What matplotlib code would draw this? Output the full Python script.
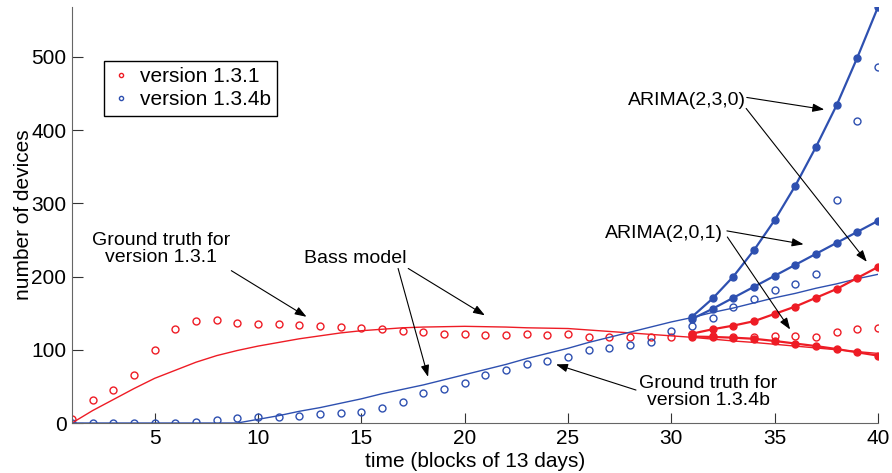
import numpy as np
import matplotlib.pyplot as plt

plt.rcParams['font.family'] = ['Liberation Sans', 'DejaVu Sans']

# time axis (blocks of 13 days)
t = np.arange(1, 41)
t_fc = np.arange(31, 41)

# ground truth
v131 = [5, 31, 45, 65, 100, 129, 139, 140, 136, 135,
        135, 134, 133, 131, 130, 129, 126, 124, 122, 122,
        120, 120, 121, 120, 121, 118, 117, 118, 118, 118,
        121, 119, 118, 117, 119, 119, 117, 124, 128, 130]
v134b = [0, 0, 0, 0, 0, 0, 1, 4, 7, 8,
         8, 10, 12, 14, 15, 20, 29, 41, 47, 54,
         66, 73, 81, 85, 90, 99, 103, 106, 111, 126,
         132, 144, 158, 169, 182, 190, 204, 304, 413, 486]

# Bass model fits
bass131 = [0, 17, 32, 47, 61, 72, 83, 92, 99, 105,
           110, 115, 119, 123, 126, 128, 130, 131, 131.5, 132,
           131.5, 131, 130, 129.5, 129, 127, 125, 123, 121, 119,
           117, 114.5, 112, 110, 107.5, 105, 102.5, 100, 97.5, 95]
bass134b = [0, 0, 0, 0, 0, 0, 0, 0, 0, 5,
            10, 16, 21, 27, 33, 40, 46, 52, 59, 66,
            73, 80, 88, 95, 102, 110, 117, 124, 131, 138,
            144, 151, 157, 164, 171, 177, 184, 190, 197, 203]

# ARIMA forecasts from block 31
arima230_134b = [145, 170, 200, 236, 277, 324, 377, 434, 499, 568]
arima201_134b = [142, 156, 171, 186, 201, 216, 231, 246, 261, 276]
arima230_131 = [122, 128, 133, 139, 149, 159, 171, 183, 198, 213]
arima201_131 = [118, 117.5, 116.5, 115, 112, 108.5, 105, 101, 96.5, 92]

red = '#ee1c25'
blue = '#2e50b0'

fig = plt.figure(figsize=(8.92, 4.73), dpi=100)
ax = fig.add_axes([0.0807, 0.1057, 0.9036, 0.8795])

ax.plot(t, v131, 'o', mfc='none', mec=red, ms=5, mew=1.0, label='version 1.3.1')
ax.plot(t, v134b, 'o', mfc='none', mec=blue, ms=5, mew=1.0, label='version 1.3.4b')
ax.plot(t, bass131, '-', color=red, lw=1.0)
ax.plot(t, bass134b, '-', color=blue, lw=1.0)

for ys, c in [(arima230_134b, blue), (arima201_134b, blue),
              (arima230_131, red), (arima201_131, red)]:
    ax.plot(t_fc, ys, '-o', color=c, lw=1.6, ms=5)

ax.set_xlim(1, 40)
ax.set_ylim(0, 568)
ax.set_xticks(range(5, 41, 5))
ax.set_yticks(range(0, 501, 100))
ax.spines['top'].set_visible(False)
ax.spines['right'].set_visible(False)
for s in ['left', 'bottom']:
    ax.spines[s].set_color('#666666')
ax.tick_params(axis='x', direction='in', length=7, labelsize=15, pad=4, color='#333333')
ax.tick_params(axis='y', direction='in', length=8, labelsize=15, pad=4, color='#333333')
ax.set_xlabel('time (blocks of 13 days)', fontsize=15, labelpad=3)
ax.set_ylabel('number of devices', fontsize=15, labelpad=-1)

leg = ax.legend(loc='upper left', bbox_to_anchor=(0.04, 0.870), fontsize=15,
                markerscale=0.6, handletextpad=0.4, handlelength=1.0,
                borderpad=0.3, labelspacing=0.2, borderaxespad=0,
                fancybox=False, framealpha=1)
leg.get_frame().set_edgecolor('black')
leg.get_frame().set_linewidth(1.0)

arrow = dict(arrowstyle='-|>,head_length=0.7,head_width=0.25', color='black',
             lw=0.8, shrinkA=0, shrinkB=0)
fs = 14

ax.text(5.32, 237, 'Ground truth for\nversion 1.3.1', ha='center', va='center',
        fontsize=fs, linespacing=1.0)
ax.annotate('', xy=(12.35, 145), xytext=(8.71, 208), arrowprops=arrow)

ax.text(14.73, 224.6, 'Bass model', ha='center', va='center', fontsize=fs)
ax.annotate('', xy=(18.23, 63), xytext=(16.78, 211), arrowprops=arrow)
ax.annotate('', xy=(20.98, 147), xytext=(17.27, 211), arrowprops=arrow)

ax.text(31.78, 42.3, 'Ground truth for\nversion 1.3.4b', ha='center', va='center',
        fontsize=fs, linespacing=1.0)
ax.annotate('', xy=(24.42, 80), xytext=(28.29, 45), arrowprops=arrow)

ax.text(27.9, 440.8, 'ARIMA(2,3,0)', ha='left', va='center', fontsize=fs)
ax.annotate('', xy=(37.4, 428), xytext=(33.65, 444.5), arrowprops=arrow)
ax.annotate('', xy=(39.46, 220), xytext=(33.62, 429.5), arrowprops=arrow)

ax.text(32.52, 259, 'ARIMA(2,0,1)', ha='right', va='center', fontsize=fs)
ax.annotate('', xy=(36.4, 244), xytext=(32.69, 262.3), arrowprops=arrow)
ax.annotate('', xy=(35.75, 127.6), xytext=(32.71, 254), arrowprops=arrow)

fig.savefig('out.png', dpi=100)
